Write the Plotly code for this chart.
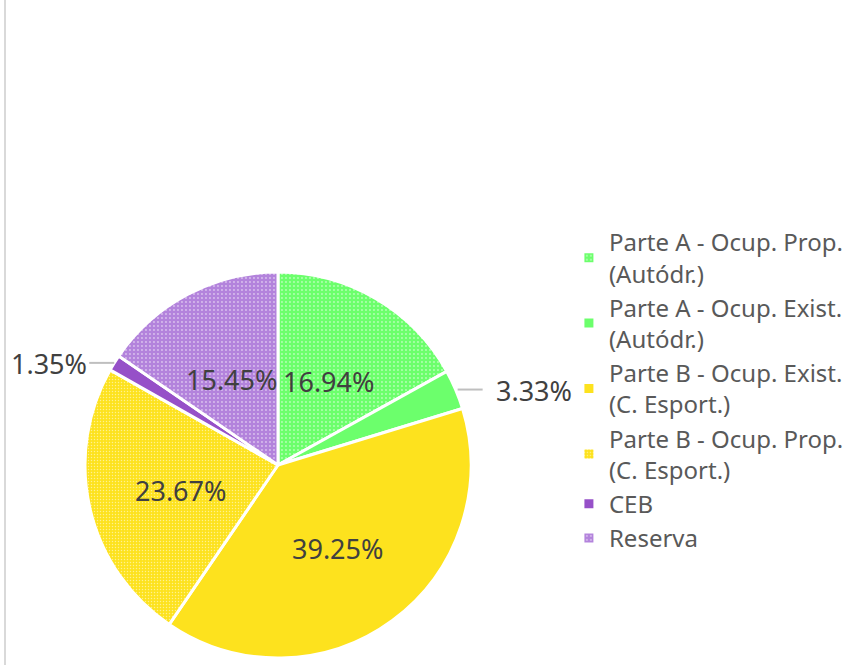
import math
import plotly.graph_objects as go

labels = ["Parte A - Ocup. Prop.<br>(Autódr.)", "Parte A - Ocup. Exist.<br>(Autódr.)",
          "Parte B - Ocup. Exist.<br>(C. Esport.)", "Parte B - Ocup. Prop.<br>(C. Esport.)",
          "CEB", "Reserva"]
values = [16.94, 3.33, 39.25, 23.67, 1.35, 15.45]
colors = ["#6CFF6C", "#6CFF6C", "#FDE21E", "#FDE21E", "#9650C8", "#B383DC"]
shapes_pat = [".", "", "", ".", "", "."]
pat_sizes = [4, 4, 4, 3, 4, 4]
outside = [False, True, False, False, True, False]

W, H = 859, 665
CX, CY, R = 278, 465, 193  # pie centre and radius in pixels

fig = go.Figure(go.Pie(
    labels=labels, values=values, sort=False, direction="clockwise", rotation=0,
    marker=dict(colors=colors, line=dict(color="white", width=3),
                pattern=dict(shape=shapes_pat, fgcolor="white", size=pat_sizes, solidity=0.18,
                             fillmode="overlay")),
    textinfo="none", hoverinfo="label+percent",
    domain=dict(x=[(CX - R) / W, (CX + R) / W], y=[(H - CY - R) / H, (H - CY + R) / H]),
))

annotations = []
shapes = [dict(type="line", xref="paper", yref="paper", x0=5 / W, x1=5 / W, y0=0, y1=1,
               line=dict(color="#D9D9D9", width=2))]
total = sum(values)
cum = 0.0
lab_font = dict(family="Noto Sans", size=27, color="#404040")
for v, out in zip(values, outside):
    mid = (cum + v / 2) / total * 2 * math.pi
    cum += v
    dx, dy = math.sin(mid), -math.cos(mid)
    txt = f"{v:.2f}%"
    if not out:
        px, py = CX + 0.52 * R * dx, CY + 0.52 * R * dy + 3
        annotations.append(dict(x=px / W, y=1 - py / H, xref="paper", yref="paper", text=txt,
                                showarrow=False, font=lab_font, xanchor="center", yanchor="middle"))
    else:
        ex, ey = CX + R * dx, CY + R * dy
        sgn = 1 if dx > 0 else -1
        x0 = ex + sgn * (2 if sgn > 0 else 0)
        x1 = x0 + sgn * 25
        gap = 11 if sgn > 0 else 0
        shapes.append(dict(type="line", xref="paper", yref="paper", x0=x0 / W, x1=x1 / W,
                           y0=1 - ey / H, y1=1 - ey / H, line=dict(color="#BFBFBF", width=2)))
        annotations.append(dict(x=(x1 + sgn * gap) / W, y=1 - (ey + 1) / H, xref="paper", yref="paper",
                                text=txt, showarrow=False, font=lab_font,
                                xanchor="left" if sgn > 0 else "right", yanchor="middle"))

fig.update_layout(
    width=W, height=H, margin=dict(l=0, r=0, t=0, b=0),
    paper_bgcolor="white", plot_bgcolor="white",
    font=dict(family="Noto Sans", color="#595959"),
    legend=dict(x=0.6623, y=(H - 390) / H, yanchor="middle", xanchor="left",
                font=dict(size=24, color="#595959"), itemwidth=30),
    shapes=shapes, annotations=annotations,
)
fig.write_html("out.html", post_script="document.body.style.margin='0';",
               config={"displayModeBar": False})
